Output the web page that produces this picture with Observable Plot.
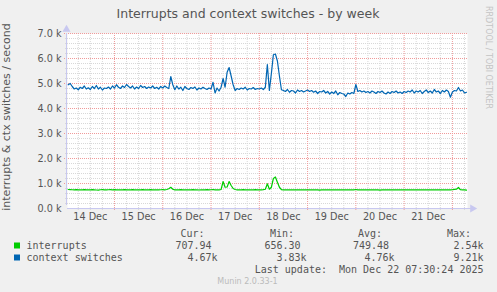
<!DOCTYPE html>
<html>
<head>
<meta charset="utf-8">
<script src="https://cdn.jsdelivr.net/npm/d3@7"></script>
<script src="https://cdn.jsdelivr.net/npm/@observablehq/plot@0.6"></script>
<style>
  html, body { margin: 0; padding: 0; background: #f0f0f0; }
  #chart { width: 497px; height: 292px; }
</style>
</head>
<body>
<div id="chart"></div>
<script>
// ---- Data (hourly samples, first at 14 Dec 01:00 UTC) ----
const title = "Interrupts and context switches - by week";
const yLabel = "interrupts & ctx switches / second";
const seriesNames = ["interrupts", "context switches"];
const seriesColors = ["#00cc00", "#0066b3"];
const firstSample = Date.UTC(2025, 11, 14, 1, 0);
const rangeStart = Date.UTC(2025, 11, 14, 0, 39);
const rangeEnd = Date.UTC(2025, 11, 22, 7, 30);
const yTicks = [0, 1000, 2000, 3000, 4000, 5000, 6000, 7000];

const contextSwitches = [
  4950, 5000, 4880, 4780, 4820, 4750, 4850, 4800, 4900, 4780,
  4830, 4760, 4880, 4800, 4920, 4780, 4850, 4740, 4820, 4800,
  4860, 4780, 4900, 4820, 4950, 4850, 4800, 4900, 4840, 4960,
  4880, 4820, 4900, 4780, 4860, 4800, 4920, 4840, 4880, 4800,
  4860, 4820, 4900, 4800, 4850, 4780, 4880, 4820, 4900, 4840,
  4800, 5280, 4950, 4750, 4900, 4780, 4850, 4720, 4880, 4800,
  4760, 4840, 4800, 4860, 4740, 4820, 4780, 4850, 4800, 4760,
  4820, 4780, 5050, 4620, 4820, 4700, 4850, 5200, 4850, 5450,
  5640, 5300, 4950, 4720, 4800, 4760, 4820, 4780, 4850, 4740,
  4800, 4780, 4840, 4760, 4800, 4780, 4820, 4760, 4850, 5760,
  4720, 5400, 6150, 6180, 5900, 5300, 4750, 4720, 4680, 4760,
  4650, 4720, 4700, 4620, 4740, 4680, 4720, 4660, 4700, 4740,
  4680, 4720, 4650, 4700, 4600, 4680, 4660, 4720, 4620, 4680,
  4580, 4660, 4600, 4700, 4550, 4640, 4600, 4580, 4480, 4620,
  4580, 4640, 4600, 4960, 4680, 4720, 4660, 4700, 4640, 4680,
  4620, 4700, 4660, 4600, 4680, 4640, 4700, 4620, 4580, 4660,
  4600, 4680, 4640, 4700, 4620, 4660, 4600, 4680, 4640, 4700,
  4660, 4740, 4620, 4700, 4660, 4720, 4600, 4680, 4740, 4640,
  4700, 4620, 4760, 4660, 4700, 4600, 4720, 4660, 4740, 4680,
  4450, 4660, 4720, 4700, 4840, 4700, 4740, 4620, 4650
];

const interrupts = [
  760, 755, 750, 748, 752, 746, 750, 748, 752, 745,
  750, 748, 752, 746, 740, 735, 750, 752, 748, 746,
  750, 755, 748, 752, 746, 750, 748, 745, 752, 748,
  750, 746, 752, 748, 745, 750, 748, 752, 746, 750,
  748, 752, 746, 750, 748, 745, 750, 752, 748, 760,
  790, 850, 770, 748, 750, 746, 752, 748, 750, 745,
  750, 748, 752, 746, 750, 740, 748, 750, 746, 752,
  748, 750, 760, 745, 750, 748, 760, 1080, 850, 860,
  1080, 920, 800, 760, 748, 750, 746, 752, 748, 750,
  745, 750, 748, 752, 746, 750, 748, 752, 770, 990,
  770, 850, 1200, 1260, 1050, 850, 755, 748, 745, 750,
  746, 748, 745, 750, 744, 748, 746, 745, 748, 744,
  746, 748, 744, 745, 748, 735, 746, 745, 748, 744,
  746, 745, 748, 744, 746, 745, 748, 744, 745, 746,
  748, 744, 746, 760, 745, 748, 744, 746, 745, 748,
  744, 746, 745, 748, 744, 735, 746, 745, 748, 744,
  746, 745, 748, 744, 746, 745, 748, 744, 746, 745,
  748, 744, 746, 745, 748, 744, 746, 745, 748, 744,
  746, 745, 748, 744, 746, 745, 748, 744, 746, 745,
  748, 750, 765, 770, 840, 750, 745, 748, 735
];

const legendHeaders = ["Cur:", "Min:", "Avg:", "Max:"];
const legendInterrupts = ["707.94", "656.30", "749.48", "2.54k"];
const legendContext = ["4.67k", "3.83k", "4.76k", "9.21k"];
const lastUpdate = "Last update:  Mon Dec 22 07:30:24 2025";
const footer = "Munin 2.0.33-1";
const watermark = "RRDTOOL / TOBI OETIKER";

// ---- Build table ----
const toRows = (arr, name) => arr.map((v, i) => ({
  time: new Date(firstSample + i * 3600e3), value: v, series: name
}));
const irqRows = toRows(interrupts, seriesNames[0]);
const ctxRows = toRows(contextSwitches, seriesNames[1]);

const domain = [new Date(rangeStart), new Date(rangeEnd)];
const sixHours = d3.utcHour.every(6).range(domain[0], domain[1]);
const midnights = d3.utcDay.range(domain[0], domain[1]);
const minorX = sixHours.filter(d => d.getUTCHours() !== 0);
const noonTicks = d3.utcDay.range(new Date(rangeStart - 86400e3), domain[1])
  .map(d => new Date(+d + 12 * 3600e3))
  .filter(d => d >= domain[0] && d <= domain[1]);
const minorY = d3.range(200, 7001, 200).filter(v => v % 1000 !== 0);
const majorY = yTicks.filter(v => v > 0);

const gridGray = "#d8d8d8";
const gridRed = "#f09a9a";
const axisCol = "#c8c8f0";
const textCol = "#555555";

const plot = Plot.plot({
  width: 497,
  height: 292,
  marginLeft: 67,
  marginRight: 30,
  marginTop: 33,
  marginBottom: 84,
  style: { background: "#f0f0f0", fontFamily: "DejaVu Sans", overflow: "visible" },
  x: { type: "utc", domain },
  y: { domain: [0, 7000] },
  marks: [
    Plot.frame({ fill: "white", stroke: null }),
    Plot.ruleX(minorX, { stroke: gridGray, strokeDasharray: "1,1", insetBottom: -2 }),
    Plot.ruleY(minorY, { stroke: gridGray, strokeDasharray: "1,1", insetLeft: -2 }),
    Plot.ruleX(midnights, { stroke: gridRed, strokeDasharray: "1,1", insetBottom: -3 }),
    Plot.ruleY(majorY, { stroke: gridRed, strokeDasharray: "1,1", insetLeft: -3 }),
    Plot.axisY(yTicks, {
      tickSize: 0, tickPadding: 6, fontSize: 9.7, fill: textCol,
      tickFormat: v => (v / 1000).toFixed(1) + " k", label: null
    }),
    Plot.axisX(noonTicks, {
      tickSize: 0, tickPadding: 5, fontSize: 9.7, fill: textCol,
      tickFormat: d3.utcFormat("%-d Dec"), label: null
    }),
    Plot.line(irqRows, { x: "time", y: "value", stroke: seriesColors[0], strokeWidth: 1.2 }),
    Plot.line(ctxRows, { x: "time", y: "value", stroke: seriesColors[1], strokeWidth: 1.2 }),
    Plot.ruleY([0], { x1: domain[0], x2: domain[1], stroke: axisCol, strokeWidth: 1, insetRight: -4 }),
    Plot.ruleX([domain[0]], { y1: 0, y2: 7000, stroke: axisCol, strokeWidth: 1, dx: -1, insetTop: -3 }),
    Plot.dot([{ x: domain[1], y: 0 }], { x: "x", y: "y", symbol: "triangle", rotate: 90, r: 3, fill: axisCol, stroke: null, dx: 5 }),
    Plot.dot([{ x: domain[0], y: 7000 }], { x: "x", y: "y", symbol: "triangle", r: 3, fill: axisCol, stroke: null, dy: -4, dx: -1 })
  ]
});

document.getElementById("chart").appendChild(plot);

// ---- Titles, legend and footer added to the same SVG ----
const svg = d3.select(plot);
const g = svg.append("g").attr("text-anchor", "start");

g.append("text").text(title)
  .attr("x", 248).attr("y", 17.5).attr("text-anchor", "middle")
  .attr("font-family", "DejaVu Sans").attr("font-size", 12.5).attr("fill", textCol);

g.append("text").text(yLabel)
  .attr("transform", "translate(9.5,117) rotate(-90)").attr("text-anchor", "middle")
  .attr("font-family", "DejaVu Sans").attr("font-size", 11).attr("fill", textCol);

g.append("text").text(watermark)
  .attr("transform", "translate(485.5,6) rotate(90)").attr("text-anchor", "start")
  .attr("font-family", "DejaVu Sans").attr("font-size", 8).attr("fill", "#c4c4c4");

const mono = "DejaVu Sans Mono";
const headerX = [204.5, 294, 382, 471];
const valueX = [[211.5, 300.5, 389, 483.5], [217.5, 306.5, 394.5, 483.5]];

legendHeaders.forEach((h, i) => {
  g.append("text").text(h).attr("x", headerX[i]).attr("y", 236.7)
    .attr("text-anchor", "end").attr("font-family", mono).attr("font-size", 10).attr("fill", textCol);
});
[legendInterrupts, legendContext].forEach((vals, r) => {
  const y = 249 + r * 12;
  g.append("rect").attr("x", 14).attr("y", y - 6.5).attr("width", 6).attr("height", 6)
    .attr("fill", seriesColors[r]);
  g.append("text").text(seriesNames[r]).attr("x", 26.5).attr("y", y)
    .attr("text-anchor", "start")
    .attr("font-family", mono).attr("font-size", 10).attr("fill", textCol);
  vals.forEach((v, i) => {
    g.append("text").text(v).attr("x", valueX[r][i]).attr("y", y)
      .attr("text-anchor", "end").attr("font-family", mono).attr("font-size", 10).attr("fill", textCol);
  });
});
g.append("text").text(lastUpdate).attr("x", 483.5).attr("y", 272.7)
  .attr("text-anchor", "end").attr("xml:space", "preserve").style("white-space", "pre")
  .attr("font-family", mono).attr("font-size", 10).attr("fill", textCol);

g.append("text").text(footer).attr("x", 247.5).attr("y", 283.5).attr("text-anchor", "middle")
  .attr("font-family", "DejaVu Sans").attr("font-size", 8).attr("fill", "#bbbbbb");
</script>
</body>
</html>
